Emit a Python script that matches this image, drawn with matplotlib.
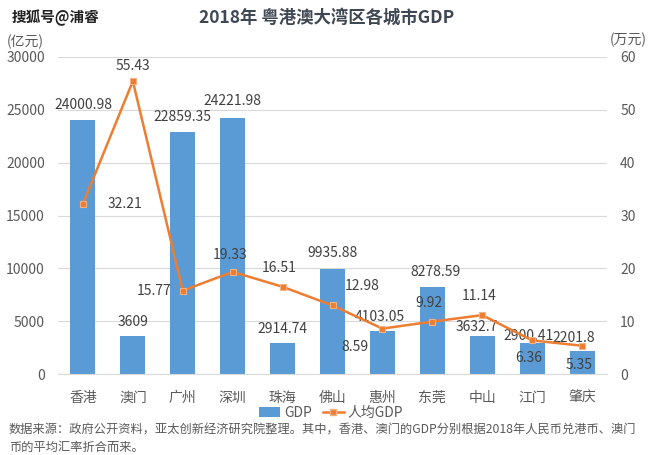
import matplotlib
matplotlib.use("Agg")
import matplotlib.pyplot as plt
from matplotlib.patches import Patch
from matplotlib.lines import Line2D

plt.rcParams['font.family'] = ['Noto Sans CJK SC', 'DejaVu Sans']

cities = ['香港', '澳门', '广州', '深圳', '珠海', '佛山', '惠州', '东莞', '中山', '江门', '肇庆']
gdp = [24000.98, 3609, 22859.35, 24221.98, 2914.74, 9935.88, 4103.05, 8278.59, 3632.7, 2900.41, 2201.8]
gdp_labels = ['24000.98', '3609', '22859.35', '24221.98', '2914.74', '9935.88', '4103.05', '8278.59', '3632.7', '2900.41', '2201.8']
per_capita = [32.21, 55.43, 15.77, 19.33, 16.51, 12.98, 8.59, 9.92, 11.14, 6.36, 5.35]
pc_labels = ['32.21', '55.43', '15.77', '19.33', '16.51', '12.98', '8.59', '9.92', '11.14', '6.36', '5.35']

bar_color = '#5B9BD5'
line_color = '#ED7D31'
text_color = '#404040'
tick_color = '#595959'

fig = plt.figure(figsize=(6.5, 4.55), dpi=100)
ax = fig.add_axes([58/650, 1-374/455, 549/650, (374-57)/455])
ax2 = ax.twinx()

x = list(range(len(cities)))
ax.bar(x, gdp, width=0.5, color=bar_color, zorder=2)
ax.set_xlim(-0.5, len(cities)-0.5)
ax.set_ylim(0, 30000)
ax.set_yticks(range(0, 30001, 5000))
ax.grid(axis='y', color='#D9D9D9', linewidth=0.8, zorder=0)
ax.set_axisbelow(True)
for s in ['top', 'right', 'left']:
    ax.spines[s].set_visible(False)
ax.spines['bottom'].set_color('#D9D9D9')
ax.tick_params(axis='both', length=0, labelsize=10, colors=tick_color)
ax.tick_params(axis='y', pad=9.5)
ax.set_xticks(x)
ax.set_xticklabels(cities)
ax.tick_params(axis='x', pad=12)

ax2.plot(x, per_capita, color=line_color, linewidth=1.8, marker='s', markersize=5,
         markerfacecolor=line_color, markeredgecolor='#F4B183', markeredgewidth=0.8, zorder=3)
ax2.set_ylim(0, 60)
ax2.set_yticks(range(0, 61, 10))
for s in ['top', 'right', 'left', 'bottom']:
    ax2.spines[s].set_visible(False)
ax2.tick_params(axis='y', length=0, labelsize=10, colors=tick_color, pad=9.5)

# GDP labels: offsets in pixels from bar top
gdp_off = [(0, 15), (0, 14), (0, 15), (0, 17), (0, 14), (0, 16), (-3, 14), (3, 15), (-5, 9), (-4, 7), (-8, 13)]
for i, (v, lab) in enumerate(zip(gdp, gdp_labels)):
    ax.annotate(lab, (i, v), xytext=gdp_off[i], textcoords='offset pixels',
                ha='center', va='center', fontsize=10, color=text_color, zorder=5)

pc_off = [(42, 0), (0, 15), (-29, 0), (-3, 17), (-3, 19), (30, 19), (-27, -18), (-3, 19), (-3, 19), (-3, -18), (-3, -19)]
for i, (v, lab) in enumerate(zip(per_capita, pc_labels)):
    ax2.annotate(lab, (i, v), xytext=pc_off[i], textcoords='offset pixels',
                 ha='center', va='center', fontsize=10, color=text_color, zorder=5)

fig.text(327/650, 1-18/455, '2018年 粤港澳大湾区各城市GDP', ha='center', va='center',
         fontsize=12.5, fontweight='bold', color='#3F4752')
fig.text(12/650, 1-18/455, '搜狐号@浦睿', ha='left', va='center', fontsize=10.5,
         color='#222222', fontweight='bold')
fig.text(7/650, 1-42/455, '(亿元)', ha='left', va='center', fontsize=10, color=tick_color)
fig.text(647/650, 1-40/455, '(万元)', ha='right', va='center', fontsize=10, color=tick_color)

handles = [Patch(facecolor=bar_color), Line2D([0], [0], color=line_color, linewidth=1.8, marker='s',
           markersize=5, markerfacecolor=line_color, markeredgecolor='#F4B183')]
fig.legend(handles, ['GDP', '人均GDP'], loc='center', bbox_to_anchor=(331/650, 1-413/455), ncol=2,
           frameon=False, fontsize=10, handlelength=1.5, handletextpad=0.3, columnspacing=0.8,
           labelcolor=tick_color)

fig.text(9/650, 1-430/455, '数据来源：政府公开资料，亚太创新经济研究院整理。其中，香港、澳门的GDP分别根据2018年人民币兑港币、澳门',
         ha='left', va='center', fontsize=8.8, color='#595959')
fig.text(9/650, 1-447/455, '币的平均汇率折合而来。', ha='left', va='center', fontsize=8.8, color='#595959')

fig.savefig('out.png', dpi=100, facecolor='white')
